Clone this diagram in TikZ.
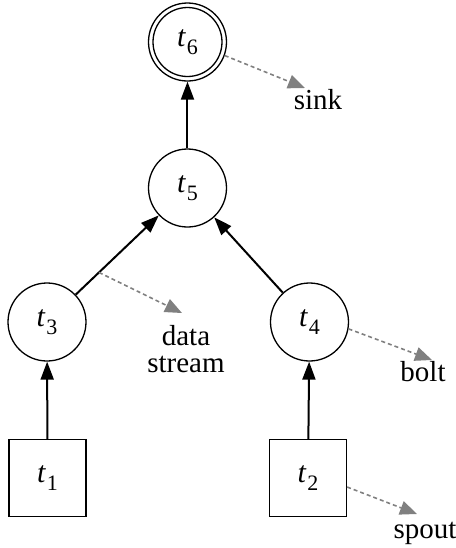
\documentclass[tikz,border=0pt]{standalone}
\usepackage{fontspec}
\setmainfont{Liberation Serif}
\usetikzlibrary{arrows.meta}
\newcommand{\tsub}[1]{\textit{t}\kern0.3pt\raisebox{-0.28em}{\fontsize{11}{11}\selectfont #1}}
\tikzset{
  task/.style={circle,draw,line width=0.65pt,minimum size=39pt,inner sep=0pt,font=\fontsize{15}{15}\selectfont},
  src/.style={rectangle,draw,line width=0.65pt,minimum size=38.5pt,inner sep=0pt,font=\fontsize{15}{15}\selectfont},
  flow/.style={line width=1pt,-{Triangle[length=9pt,width=6.5pt]}},
  note/.style={gray,line width=0.8pt,dash pattern=on 2pt off 1.5pt,-{Triangle[length=8.5pt,width=7pt]}},
  lbl/.style={font=\fontsize{14.5}{13.5}\selectfont,inner sep=0pt,align=center}
}
\begin{document}
\begin{tikzpicture}[x=0.5pt,y=-0.5pt]
\useasboundingbox (0,0) rectangle (456,548);
\node[task] (t6) at (187.5,42) {\tsub{6}};
\draw[line width=0.65pt] (t6.center) circle (17.25pt);
\node[task] (t5) at (187.5,188) {\tsub{5}};
\node[task] (t3) at (47,322) {\tsub{3}};
\node[task] (t4) at (309.5,322) {\tsub{4}};
\node[src] (t1) at (47.5,478) {\tsub{1}};
\node[src] (t2) at (308,478) {\tsub{2}};
\draw[flow] (t1) -- (t3);
\draw[flow] (t2) -- (t4);
\draw[flow] (t3) -- coordinate[pos=0.28] (ds) (t5);
\draw[flow] (t4) -- (t5);
\draw[flow] (t5) -- (t6);
\node[lbl] (sink) at (318,100) {sink};
\node[lbl] (data) at (186,349) {data\\stream};
\node[lbl] (bolt) at (423,372) {bolt};
\node[lbl] (spout) at (425,533) {spout};
\coordinate (sinkend) at (305,88);
\coordinate (dsend) at (182,313);
\coordinate (boltend) at (432,360);
\coordinate (spoutend) at (417,514);
\draw[note] (t6.-20) -- (sinkend);
\draw[note] (ds) -- (dsend);
\draw[note] (t4.-10) -- (boltend);
\draw[note] (t2.east |- 0,487) -- (spoutend);
\end{tikzpicture}
\end{document}
